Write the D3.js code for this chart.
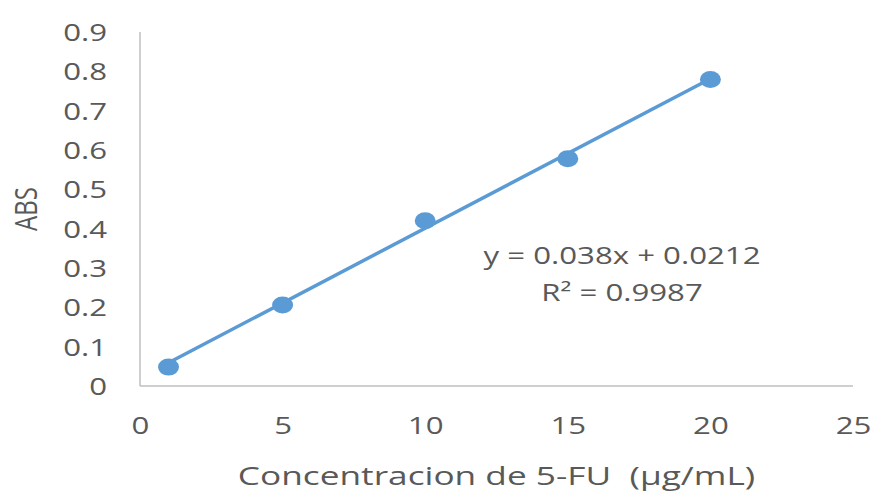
<html lang="es">
<head>
  <meta charset="UTF-8">
  <title>ABS vs concentracion</title>
  <style>
    body {
      margin: 0;
      background: #fff;
    }

    text {
      font-family: 'Open Sans', 'DejaVu Sans', sans-serif;
      fill: #595959;
      font-size: 24px;
    }

    .axis path {
      stroke: #bfbfbf;
      stroke-width: 1.5px;
    }

    .axis-title {
      font-size: 25px;
    }

    .trend {
      fill: none;
      stroke: #5b9bd5;
      stroke-width: 3.5px;
      stroke-linecap: round;
    }

    .dot {
      fill: #5b9bd5;
    }
  </style>
</head>
<body>
  <script src="https://d3js.org/d3.v7.min.js"></script>
  <script>
    // concentracion (ug/mL) y absorbancia
    var conc = [1, 5, 10, 15, 20];
    var abs = [0.048, 0.206, 0.42, 0.578, 0.779];

    // linea de tendencia: y = m x + b
    var slope = 0.038, intercept = 0.0212;
    var eqLabels = ['y = 0.038x + 0.0212', 'R² = 0.9987'];

    var xTicks = [0, 5, 10, 15, 20, 25];
    var yTicks = [0, 0.1, 0.2, 0.3, 0.4, 0.5, 0.6, 0.7, 0.8, 0.9];

    var width = 873, height = 493;
    var sx = 1.3; // the picture is stretched sideways

    var svg = d3.select('body').append('svg')
      .attr('width', width)
      .attr('height', height);

    var x = d3.scaleLinear().domain([0, 25]).range([140, 853]);
    var y = d3.scaleLinear().domain([0, 0.9]).range([386, 32]);

    var gx = svg.append('g')
      .attr('class', 'axis')
      .attr('transform', 'translate(0,' + y(0) + ')')
      .call(d3.axisBottom(x).tickValues(xTicks).tickSize(0).tickSizeOuter(0).tickFormat(d3.format('d')));
    gx.select('.domain').attr('d', 'M' + x(0) + ',0H' + x(25));
    gx.selectAll('text')
      .attr('y', 0).attr('dy', 0)
      .attr('transform', 'translate(0,48) scale(' + sx + ',1)');

    var gy = svg.append('g')
      .attr('class', 'axis')
      .attr('transform', 'translate(' + x(0) + ',0)')
      .call(d3.axisLeft(y).tickValues(yTicks).tickSize(0).tickSizeOuter(0).tickFormat(function(d) {
        return d === 0 ? '0' : d3.format('.1f')(d);
      }));
    gy.select('.domain').attr('d', 'M0,' + y(0.9) + 'V' + y(0));
    gy.selectAll('text')
      .attr('x', 0).attr('dy', '0.36em')
      .attr('transform', 'translate(-33,0) scale(' + sx + ',1)');
    svg.selectAll('.axis').attr('font-size', null).attr('font-family', null);

    // trendline
    var ends = [d3.min(conc), d3.max(conc)];
    svg.append('path')
      .attr('class', 'trend')
      .attr('d', d3.line()
        .x(function(d) { return x(d); })
        .y(function(d) { return y(slope * d + intercept); })(ends));

    svg.selectAll('.dot')
      .data(conc)
      .enter().append('ellipse')
      .attr('class', 'dot')
      .attr('cx', function(d) { return x(d); })
      .attr('cy', function(d, i) { return y(abs[i]); })
      .attr('rx', 10.5)
      .attr('ry', 8.5);

    svg.selectAll('.eq')
      .data(eqLabels)
      .enter().append('text')
      .attr('class', 'eq')
      .attr('text-anchor', 'middle')
      .attr('transform', function(d, i) {
        return 'translate(622,' + (264 + i * 37) + ') scale(' + sx + ',1)';
      })
      .text(function(d) { return d; });

    svg.append('text')
      .attr('class', 'axis-title')
      .attr('text-anchor', 'middle')
      .style('white-space', 'pre')
      .attr('transform', 'translate(' + (x(0) + x(25)) / 2 + ',485) scale(1.41,1)')
      .text('Concentracion de 5-FU  (µg/mL)');

    svg.append('text')
      .attr('text-anchor', 'middle')
      .attr('dy', '0.35em')
      .attr('transform', 'translate(26,' + (y(0) + y(0.9)) / 2 + ') scale(' + sx + ',1) rotate(-90)')
      .text('ABS');
  </script>
</body>
</html>
